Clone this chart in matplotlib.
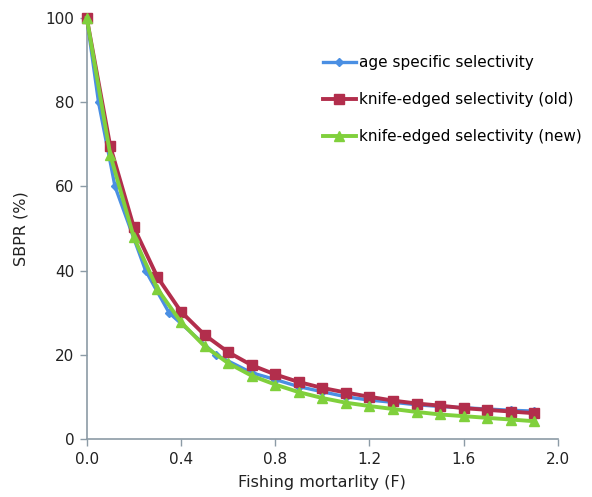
import matplotlib
matplotlib.use("Agg")
import matplotlib.pyplot as plt

plt.rcParams['font.family'] = ['DejaVu Sans']

# Data
f_age = [0, 0.05, 0.12, 0.25, 0.35, 0.55, 0.7, 0.8, 0.9, 1.0, 1.1, 1.2, 1.3, 1.4, 1.5, 1.6, 1.7, 1.8, 1.9]
sbpr_age = [100, 80, 60, 40, 30, 20, 15.8, 14.2, 12.5, 11.3, 10.1, 9.3, 8.8, 8.2, 7.8, 7.5, 7.2, 6.9, 6.7]

f_grid = [0, 0.1, 0.2, 0.3, 0.4, 0.5, 0.6, 0.7, 0.8, 0.9, 1.0, 1.1, 1.2, 1.3, 1.4, 1.5, 1.6, 1.7, 1.8, 1.9]
sbpr_old = [100, 69.5, 50.3, 38.5, 30.3, 24.8, 20.7, 17.6, 15.4, 13.6, 12.2, 11.1, 10.1, 9.2, 8.5, 8.0, 7.4, 7.0, 6.6, 6.2]
sbpr_new = [100, 67.5, 47.9, 35.7, 27.8, 22.1, 18.1, 15.1, 13.0, 11.2, 9.8, 8.7, 7.9, 7.2, 6.5, 5.9, 5.5, 5.1, 4.7, 4.3]

labels = ["age specific selectivity", "knife-edged selectivity (old)", "knife-edged selectivity (new)"]
xticks = [0.0, 0.4, 0.8, 1.2, 1.6, 2.0]
yticks = [0, 20, 40, 60, 80, 100]

fig = plt.figure(figsize=(5.92, 4.97), dpi=100)
ax = fig.add_axes([0.1465, 0.116, 0.7960, 0.848])

c_blue = '#4A8FE3'
c_red = '#B22E4C'
c_green = '#80D03C'

ax.plot(f_age, sbpr_age, color=c_blue, lw=2.4, marker='D', ms=4.5, label=labels[0], clip_on=False, zorder=3)
ax.plot(f_grid, sbpr_old, color=c_red, lw=2.8, marker='s', ms=7.5, label=labels[1], clip_on=False, zorder=4)
ax.plot(f_grid, sbpr_new, color=c_green, lw=2.8, marker='^', ms=7, label=labels[2], clip_on=False, zorder=5)

ax.set_xlim(0, 2.0)
ax.set_ylim(0, 100)
ax.set_xticks(xticks)
ax.set_xticklabels([f"{v:.1f}" for v in xticks])
ax.set_yticks(yticks)

axis_col = '#8C9BA6'
for s in ['top', 'right']:
    ax.spines[s].set_visible(False)
for s in ['left', 'bottom']:
    ax.spines[s].set_color(axis_col)
    ax.spines[s].set_linewidth(1.2)
ax.tick_params(axis='both', direction='out', length=5, width=1.0, color=axis_col,
               labelsize=11, labelcolor='#222222', pad=4)

ax.set_xlabel("Fishing mortarlity (F)", fontsize=11.5, color='#222222', labelpad=6)
ax.set_ylabel("SBPR (%)", fontsize=11.5, color='#222222', labelpad=12)

fig.legend(loc='upper left', bbox_to_anchor=(0.545, 0.889), frameon=False,
           fontsize=11, handlelength=2.2, handletextpad=0.2, labelspacing=1.45,
           borderaxespad=0, borderpad=0)

fig.savefig("out.png", dpi=100)
